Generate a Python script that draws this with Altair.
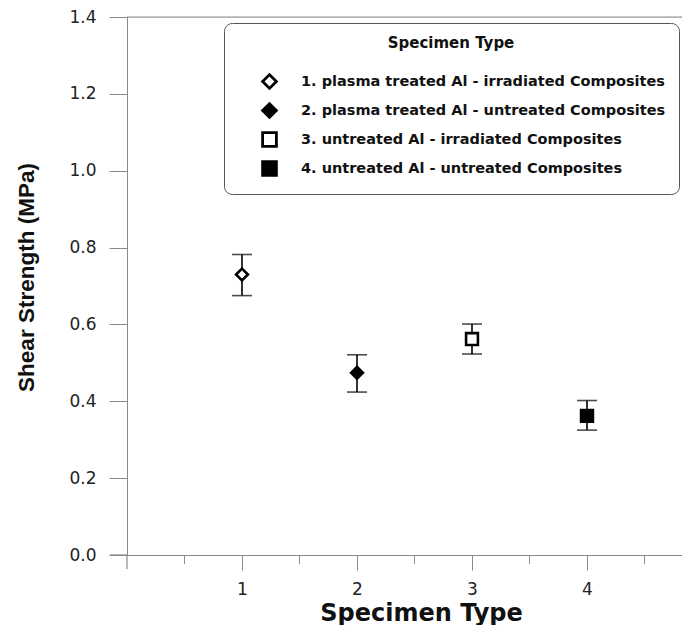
import altair as alt
import pandas as pd

types = [1, 2, 3, 4]
labels = [
    "1. plasma treated Al - irradiated Composites",
    "2. plasma treated Al - untreated Composites",
    "3. untreated Al - irradiated Composites",
    "4. untreated Al - untreated Composites",
]
means = [0.73, 0.474, 0.562, 0.362]
lower = [0.675, 0.424, 0.523, 0.325]
upper = [0.782, 0.521, 0.601, 0.402]
shapes = ["diamond", "diamond", "square", "square"]
fills = ["white", "black", "white", "black"]
strokes = ["black", "black", "black", "black"]
y_ticks = [0.0, 0.2, 0.4, 0.6, 0.8, 1.0, 1.2, 1.4]
x_ticks = [1, 2, 3, 4]
x_minor = [0.5, 1.5, 2.5, 3.5, 4.5]

df = pd.DataFrame({"type": types, "label": labels, "mean": means,
                   "lower": lower, "upper": upper})
minor_df = pd.DataFrame({"x": x_minor})
top_df = pd.DataFrame({"y": [1.4]})

W, H = 555, 538
XMAX = W / 115.0
AX = "#8a8a8a"

xscale = alt.Scale(domain=[0, XMAX], nice=False, zero=False)
yscale = alt.Scale(domain=[0, 1.4], nice=False)

xaxis = alt.Axis(values=x_ticks, format="d", grid=False, tickSize=15, tickColor=AX,
                 domainColor=AX, labelFont="DejaVu Sans", labelFontSize=17,
                 labelColor="#222", labelPadding=11, title="Specimen Type",
                 titleFont="DejaVu Sans", titleFontSize=24, titleFontWeight="bold",
                 titleColor="#111", titleX=294, titleY=46)
yaxis = alt.Axis(values=y_ticks, format=".1f", grid=False, tickSize=18, tickColor=AX,
                 domainColor=AX, labelFont="DejaVu Sans", labelFontSize=17,
                 labelColor="#222", labelPadding=13, title="Shear Strength (MPa)",
                 titleFont="Liberation Sans", titleFontSize=22.5, titleFontWeight="bold",
                 titleColor="#111", titlePadding=30, titleY=260)

legend = alt.Legend(
    title="Specimen Type", orient="none", legendX=97, legendY=6,
    titleFont="DejaVu Sans", titleFontSize=15, titleFontWeight="bold",
    titleColor="#111", titleAnchor="middle", titlePadding=22,
    labelFont="DejaVu Sans", labelFontSize=14.5, labelFontWeight="bold",
    labelColor="#111", labelLimit=600, labelOffset=23,
    symbolOffset=24, symbolSize=190, symbolStrokeWidth=2.8,
    symbolStrokeColor="black", rowPadding=4, padding=13,
    strokeColor="#555", cornerRadius=8, fillColor="white",
)

base = alt.Chart(df)

errbar = base.mark_rule(color="black", strokeWidth=1.6).encode(
    x=alt.X("type:Q", scale=xscale, axis=xaxis),
    y=alt.Y("lower:Q", scale=yscale, axis=yaxis),
    y2="upper:Q",
)
cap_hi = base.mark_tick(color="black", orient="horizontal", size=20, thickness=1.6).encode(
    x="type:Q", y="upper:Q")
cap_lo = base.mark_tick(color="black", orient="horizontal", size=20, thickness=1.6).encode(
    x="type:Q", y="lower:Q")

points = base.mark_point(strokeWidth=2.6, opacity=1, fillOpacity=1,
                         size=140).encode(
    x="type:Q",
    y="mean:Q",
    shape=alt.Shape("label:N", scale=alt.Scale(domain=labels, range=shapes), legend=legend),
    fill=alt.Fill("label:N", scale=alt.Scale(domain=labels, range=fills), legend=legend),
    stroke=alt.Stroke("label:N", scale=alt.Scale(domain=labels, range=strokes), legend=legend),
)

minor = alt.Chart(minor_df).mark_rule(color=AX, strokeWidth=1).encode(
    x="x:Q", y=alt.value(H), y2=alt.value(H + 9))

top_line = alt.Chart(top_df).mark_rule(color=AX, strokeWidth=1).encode(
    y="y:Q", x=alt.value(0), x2=alt.value(W))

x_ext = alt.Chart(top_df).mark_rule(color=AX, strokeWidth=1.2).encode(
    x=alt.value(-17), x2=alt.value(0), y=alt.value(H))
y_ext = alt.Chart(top_df).mark_rule(color=AX, strokeWidth=1.2).encode(
    x=alt.value(0), y=alt.value(H), y2=alt.value(H + 14))

chart = alt.layer(top_line, minor, x_ext, y_ext, errbar, cap_hi, cap_lo, points).properties(
    width=W, height=H,
    padding={"left": 119, "top": 9, "right": 0, "bottom": 70},
    autosize="none",
).configure_view(stroke=None).configure(background="white")

chart.save("out.html", embed_options={"renderer": "svg", "actions": False})
